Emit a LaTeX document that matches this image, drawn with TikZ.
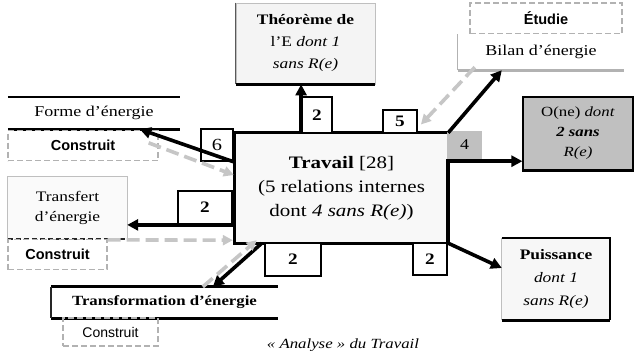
\documentclass[tikz,border=0pt]{standalone}
\usepackage{fontspec}
\setmainfont{Liberation Serif}[FakeStretch=1.2]
\newfontfamily\sansb{Liberation Sans}
\usetikzlibrary{arrows.meta,calc}
\definecolor{mid}{HTML}{C0C0C0}
\definecolor{lite}{HTML}{F4F4F4}
\begin{document}
\begin{tikzpicture}[x=1pt,y=-1pt,
  boxn/.style={inner sep=0pt, align=center, minimum width=#1},
  boxn/.default=10pt,
  lab/.style={draw=black, line width=1.8pt, fill=white, inner sep=0pt,
    font=\fontsize{16}{16}\selectfont\bfseries},
  dbox/.style={draw=gray!60, dash pattern=on 6pt off 3pt, line width=1.3pt, inner sep=0pt,
    font=\sansb\fontsize{14.5}{14.5}\selectfont\bfseries},
  arr/.style={line width=3.6pt, -{Triangle[length=11pt,width=11pt]}},
  garr/.style={line width=3.6pt, draw=gray!45, dash pattern=on 13pt off 6pt,
    -{Triangle[length=10pt,width=10pt]}},
]
\useasboundingbox (0,0) rectangle (636,351);
\fill[white] (0,0) rectangle (636,351);

% main box
\node[boxn, fill=lite!60, minimum width=213pt, minimum height=110pt,
  font=\fontsize{17.5}{24}\selectfont] (main) at (341.5,188)
  {{\bfseries Travail} [28]\\(5 relations internes\\dont \textit{4 sans R(e)})};
\draw[line width=3pt] (main.north west) rectangle (main.south east);

% Theoreme
\node[boxn, fill=lite, draw=gray!50, line width=0.8pt, minimum width=139pt, minimum height=81pt,
  font=\fontsize{14.5}{22}\selectfont] (theo) at (305.5,43.5)
  {\textbf{Théorème de}\\l’E \textit{dont 1}\\\textit{sans R(e)}};
\draw[line width=1.5pt, gray!70!black] (theo.north west) -- (theo.south west);
\draw[line width=3pt] (theo.south west) -- (theo.south east);

% Etudie / Bilan
\node[dbox, minimum width=152pt, minimum height=31pt] (etud) at (546,18.5) {Étudie};
\node[boxn, fill=white, minimum width=166pt, minimum height=36pt,
  font=\fontsize{15}{15}\selectfont] (bilan) at (541,52) {Bilan d’énergie};
\draw[gray!60, line width=0.8pt] (bilan.south west) -- (bilan.north west);
\draw[gray!60, line width=3pt] (bilan.south west) -- (bilan.south east);

% O(ne)
\node[boxn, fill=mid, draw=black, line width=1.2pt, minimum width=110pt, minimum height=73pt,
  font=\fontsize{14}{20}\selectfont] (one) at (578,133.5)
  {O(ne) \textit{dont}\\\textbf{\textit{2 sans}}\\\textit{R(e)}};
\draw[line width=3pt] (one.south west) -- (one.south east);

% Puissance
\node[boxn, fill=lite!70, minimum width=108pt, minimum height=82pt,
  font=\fontsize{14.5}{23}\selectfont] (puis) at (556,279)
  {\textbf{Puissance}\\\textit{dont 1}\\\textit{sans R(e)}};
\draw[gray!50, line width=0.8pt] (puis.south west) -- (puis.north west);
\draw[line width=1.5pt] (puis.north west) -- (puis.north east) -- (puis.south east);
\draw[line width=3pt] (puis.south west) -- (puis.south east);

% Forme d'energie
\node[boxn, fill=white, minimum width=172pt, minimum height=32pt,
  font=\fontsize{15}{15}\selectfont] (forme) at (94,113) {Forme d’énergie};
\draw[line width=2.5pt] (forme.north west) -- (forme.north east);
\draw[line width=3pt] (forme.south west) -- (forme.south east);
\node[dbox, minimum width=150pt, minimum height=30pt] (c1) at (83,145.5) {Construit};

% Transfert
\node[boxn, fill=lite!50, minimum width=119pt, minimum height=62pt,
  font=\fontsize{14.5}{20}\selectfont] (transf) at (67.5,208) {Transfert\\d’énergie};
\draw[gray!50, line width=0.8pt] (transf.south west) -- (transf.north west) -- (transf.north east) -- (transf.south east);
\draw[line width=2pt, dash pattern=on 5pt off 3pt, gray!30!black] (transf.south west) -- (transf.south east);
\node[dbox, minimum width=99pt, minimum height=30pt] (c2) at (57.5,254.5) {Construit};

% Transformation
\node[boxn, fill=white, minimum width=227pt, minimum height=31pt,
  font=\fontsize{14}{14}\selectfont\bfseries] (transfo) at (164.5,302.5) {Transformation d’énergie};
\draw[line width=3pt] (transfo.north west) -- (transfo.north east);
\draw[line width=3pt] (transfo.south west) -- (transfo.south east);
\draw[line width=2pt, gray!30!black] (transfo.north west) -- (transfo.south west);
\node[dbox, minimum width=95pt, minimum height=28pt, font=\sansb\fontsize{14}{14}\selectfont] (c3) at (110.5,332) {Construit};

% number labels
\node[lab, minimum width=30pt, minimum height=36pt] (l2t) at (317,115) {2};
\node[lab, minimum width=34pt, minimum height=23pt] (l5) at (400,121.5) {5};
\node[lab, minimum width=32pt, minimum height=32pt, font=\fontsize{17}{17}\selectfont] (l6) at (217,145) {6};
\node[lab, minimum width=54pt, minimum height=33pt] (l2l) at (205,207.5) {2};
\node[lab, minimum width=56pt, minimum height=33pt] (l2b) at (293,259.5) {2};
\node[lab, minimum width=34pt, minimum height=32pt] (l2r) at (430,259) {2};
\node[inner sep=0pt, fill=mid, minimum width=35pt, minimum height=28pt,
  font=\fontsize{15}{15}\selectfont] (l4) at (464.5,145) {4};

% connectors
\coordinate (oneStart) at ($(l4.south west)+(2,2)$);
\draw[arr] (l2t.south west) -- (l2t.south west |- theo.south);
\draw[arr] (main.north east) -- ($(bilan.south west)+(44,0)$);
\draw[garr] ($(bilan.south west)+(17,-3)$) -- ($(l5.east)+(3,3)$);
\draw[line width=4pt] (main.east |- l4.south) -- (main.south east);
\draw[arr] (oneStart) -- (oneStart -| one.west);
\draw[arr] (main.south east) -- ($(puis.west)+(0,-11)$);
\draw[arr] ($(main.south west)+(27,0)$) -- ($(transfo.north west)+(162,0)$);
\draw[garr] ($(transfo.north west)+(152,0)$) -- ($(main.south west)+(22,-3)$);
\draw[arr] (l6.south east) -- ($(forme.south west)+(132,0)$);
\draw[garr] ($(c1.north east)+(-10,13)$) -- ($(main.west)+(-1,-13)$);
\draw[arr] (l2l.south east) -- (l2l.south east -| transf.east);
\draw[garr] ($(c2.north east)+(0,1)$) -- ($(main.south west)+(-2,-3)$);

% caption
\node[anchor=base, inner sep=0pt, font=\fontsize{14}{14}\selectfont\itshape] (cap) at (343,348)
  {« Analyse » du Travail};
\end{tikzpicture}
\end{document}
